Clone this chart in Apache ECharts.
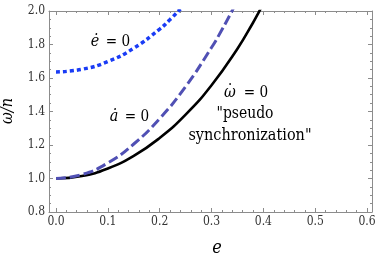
<!DOCTYPE html>
<html><head><meta charset="utf-8">
<script src="https://cdn.jsdelivr.net/npm/echarts@6/dist/echarts.min.js"></script>
<style>html,body{margin:0;padding:0;background:#fff}#c{width:382px;height:259px}</style>
</head><body><div id="c"></div>
<script>
// Data
const eSync = [0, 0.05, 0.1, 0.15, 0.2, 0.25, 0.3, 0.35, 0.38, 0.39, 0.4];
const wSync = [1.0, 1.015, 1.06, 1.135, 1.242, 1.381, 1.557, 1.775, 1.930, 1.986, 2.045];
const eAdot = [0, 0.05, 0.1, 0.15, 0.2, 0.25, 0.3, 0.32, 0.34, 0.35];
const wAdot = [1.0, 1.024, 1.093, 1.206, 1.358, 1.549, 1.782, 1.888, 2.003, 2.065];
const eEdot = [0, 0.05, 0.1, 0.15, 0.2, 0.22, 0.24];
const wEdot = [1.636, 1.652, 1.698, 1.778, 1.892, 1.949, 2.012];
const xMajor = [0, 0.1, 0.2, 0.3, 0.4, 0.5, 0.6];
const xMinor = [0.02,0.04,0.06,0.08,0.12,0.14,0.16,0.18,0.22,0.24,0.26,0.28,0.32,0.34,0.36,0.38,0.42,0.44,0.46,0.48,0.52,0.54,0.56,0.58];
const yMajor = [0.8, 1.0, 1.2, 1.4, 1.6, 1.8, 2.0];
const yMinor = [0.85,0.9,0.95,1.05,1.1,1.15,1.25,1.3,1.35,1.45,1.5,1.55,1.65,1.7,1.75,1.85,1.9,1.95];

const zip = (a, b) => a.map((v, i) => [v, b[i]]);
const frame = '#8c8c8c';
const XMIN = -0.0135, XMAX = 0.6095, YMIN = 0.8, YMAX = 2.0;
const FF = 'DejaVu Serif';
const FFC = 'DejaVu Serif Condensed';

function xAx(pos, vals, len, labels, line) {
  return {
    type: 'value', position: pos, min: XMIN, max: XMAX,
    axisLine: { show: line, onZero: false, lineStyle: { color: frame, width: 1 } },
    axisTick: { show: true, inside: true, length: len, customValues: vals, lineStyle: { color: frame, width: 1 } },
    axisLabel: labels ? { show: true, customValues: vals, margin: 4, color: '#333', fontSize: 12, fontFamily: FFC, formatter: v => (+v).toFixed(1) } : { show: false },
    splitLine: { show: false }
  };
}
function yAx(pos, vals, len, labels, line) {
  return {
    type: 'value', position: pos, min: YMIN, max: YMAX,
    axisLine: { show: line, onZero: false, lineStyle: { color: frame, width: 1 } },
    axisTick: { show: true, inside: true, length: len, customValues: vals, lineStyle: { color: frame, width: 1 } },
    axisLabel: labels ? { show: true, customValues: vals, margin: 4, color: '#333', fontSize: 12, fontFamily: FFC, formatter: v => (+v).toFixed(1) } : { show: false },
    splitLine: { show: false }
  };
}
function txt(x, y, text, size, italic, sx, extra) {
  return Object.assign({ type: 'text', x: x, y: y, scaleX: sx, style: {
    text: text, fontFamily: FF, fontSize: size, fontStyle: italic ? 'italic' : 'normal',
    fill: '#000', align: 'center', verticalAlign: 'middle' } }, extra || {});
}

const chart = echarts.init(document.getElementById('c'), null, { renderer: 'canvas' });
chart.setOption({
  animation: false,
  backgroundColor: '#fff',
  grid: { left: 49, right: 10, top: 11, bottom: 47, containLabel: false },
  xAxis: [
    xAx('bottom', xMajor, 4, true, true),
    xAx('bottom', xMinor, 2, false, false),
    xAx('top', xMajor, 4, false, true),
    xAx('top', xMinor, 2, false, false)
  ],
  yAxis: [
    yAx('left', yMajor, 4, true, true),
    yAx('left', yMinor, 2, false, false),
    yAx('right', yMajor, 4, false, true),
    yAx('right', yMinor, 2, false, false)
  ],
  series: [
    { type: 'line', data: zip(eSync, wSync), smooth: true, symbol: 'none', clip: true,
      lineStyle: { color: '#000', width: 2.6, type: 'solid' } },
    { type: 'line', data: zip(eAdot, wAdot), smooth: true, symbol: 'none', clip: true,
      lineStyle: { color: '#5050b4', width: 3, type: [10, 4] } },
    { type: 'line', data: zip(eEdot, wEdot), smooth: true, symbol: 'none', clip: true,
      lineStyle: { color: '#1a3cf5', width: 3.5, type: [4, 3] } }
  ],
  graphic: [
    txt(8, 111, 'ω/n', 17, true, 0.85, { rotation: Math.PI / 2 }),
    txt(217, 248, 'e', 19, true, 0.85),
    txt(95, 42, 'ė', 17, true, 0.85), txt(118, 42, '= 0', 17, false, 0.8),
    txt(114, 117, 'ȧ', 17, true, 0.85), txt(137, 117, '= 0', 17, false, 0.8),
    txt(230, 93, 'ω', 17, true, 0.85), txt(230, 92, '˙', 17, false, 0.85), txt(256, 93, '= 0', 17, false, 0.8),
    txt(245, 114, '"pseudo', 17, false, 0.82),
    txt(250, 136, 'synchronization"', 17, false, 0.85)
  ]
});
</script></body></html>
